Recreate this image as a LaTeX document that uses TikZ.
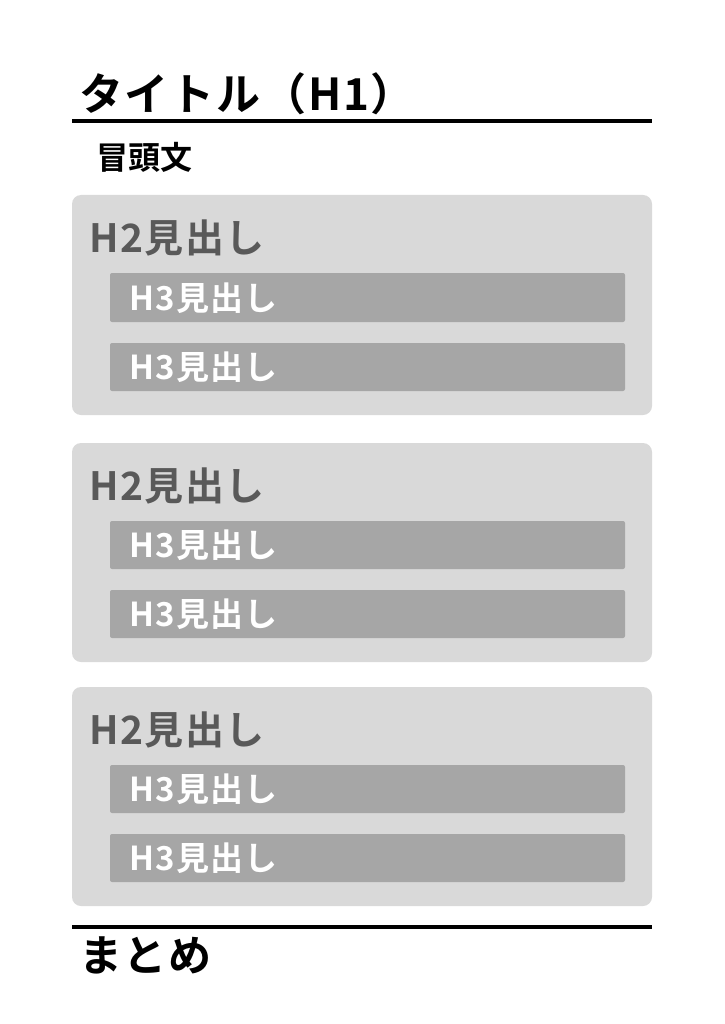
\documentclass[tikz,border=0pt]{standalone}
\usepackage{fontspec}
\setmainfont{Noto Sans CJK JP}[BoldFont={* Bold}]
\newfontfamily\jpb{Noto Sans CJK JP Bold}
\newfontfamily\jpbs{Noto Sans CJK JP Bold}[LetterSpace=4]
\definecolor{boxgray}{HTML}{D9D9D9}
\definecolor{bargray}{HTML}{A6A6A6}
\definecolor{htwo}{HTML}{595959}
\begin{document}
\begin{tikzpicture}[x=1pt,y=-1pt,
  secbox/.style={fill=boxgray,draw=none,rounded corners=9pt},
  barbox/.style={fill=bargray,draw=none,rounded corners=2pt},
  hline/.style={line width=3.5pt,black},
  htext/.style={anchor=west,inner sep=0pt,text=htwo,font=\jpbs\fontsize{39}{42}\selectfont},
  h3text/.style={anchor=west,inner sep=0pt,text=white,font=\jpbs\fontsize{33}{36}\selectfont}]
\useasboundingbox[fill=white] (0,0) rectangle (724,1024);
\node[anchor=west,inner sep=0pt,font=\jpbs\fontsize{44}{48}\selectfont] (title) at (79,94) {タイトル（H1）};
\coordinate (l1a) at (72,121);
\coordinate (l1b) at (652,121);
\draw[hline] (l1a) -- (l1b);
\node[anchor=west,inner sep=0pt,font=\jpb\fontsize{32}{34}\selectfont] (intro) at (96,157.5) {冒頭文};
% section 1
\path[secbox] (72,195) rectangle (652,415);
\node[htext] (h2a) at (89,238) {H2見出し};
\path[barbox] (110,273) rectangle (625,322);
\node[h3text] (h3a) at (129,298) {H3見出し};
\path[barbox] (110,343) rectangle (625,391);
\node[h3text] (h3b) at (129,367) {H3見出し};
% section 2
\path[secbox] (72,443) rectangle (652,662);
\node[htext] (h2b) at (89,486) {H2見出し};
\path[barbox] (110,521) rectangle (625,569);
\node[h3text] (h3c) at (129,545) {H3見出し};
\path[barbox] (110,590) rectangle (625,638);
\node[h3text] (h3d) at (129,614) {H3見出し};
% section 3
\path[secbox] (72,687) rectangle (652,906);
\node[htext] (h2c) at (89,730) {H2見出し};
\path[barbox] (110,765) rectangle (625,813);
\node[h3text] (h3e) at (129,789) {H3見出し};
\path[barbox] (110,834) rectangle (625,882);
\node[h3text] (h3f) at (129,858) {H3見出し};
% bottom
\coordinate (l2a) at (72,927);
\coordinate (l2b) at (652,927);
\draw[hline] (l2a) -- (l2b);
\node[anchor=west,inner sep=0pt,font=\jpbs\fontsize{43}{46}\selectfont] (sum) at (79,955) {まとめ};
\end{tikzpicture}
\end{document}
